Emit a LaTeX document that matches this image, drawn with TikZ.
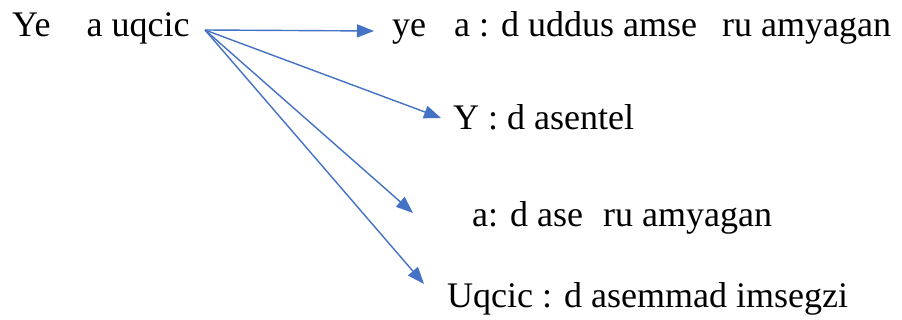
\documentclass[tikz,border=0pt]{standalone}
\usepackage{fontspec}
\setmainfont{Liberation Serif}
\usetikzlibrary{arrows.meta}
\definecolor{arrowblue}{RGB}{68,114,196}
\tikzset{
  lbl/.style={anchor=base west, inner sep=0pt, font=\rmfamily\fontsize{36}{40}\selectfont},
  link/.style={draw=arrowblue, line width=1.4pt, -{Triangle[length=17pt,width=13pt]}, fill=arrowblue}
}

\begin{document}
\begin{tikzpicture}[x=1pt, y=-1pt]
\useasboundingbox (0,0) rectangle (902,320);
% texts
\node[lbl] (src) at (12,37) {Ye\hspace{36pt}a uqcic};
\node[lbl] (one) at (392,37) {ye\hspace{28pt}a : d uddus amse\hspace{25pt}ru amyagan};
\node[lbl] (two) at (453,130) {Y : d asentel};
\node[lbl] (three) at (472,227) {a: d ase\hspace{20pt}ru amyagan};
\node[lbl] (four) at (447,308) {Uqcic : d asemmad imsegzi};
% arrow ends
\coordinate (from) at (205,30);
\coordinate (tipone) at (374,31);
\coordinate (tiptwo) at (441,118);
\coordinate (tipthree) at (413,213);
\coordinate (tipfour) at (424,284);
\draw[link] (from) -- (tipone);
\draw[link] (from) -- (tiptwo);
\draw[link] (from) -- (tipthree);
\draw[link] (from) -- (tipfour);
\end{tikzpicture}
\end{document}
